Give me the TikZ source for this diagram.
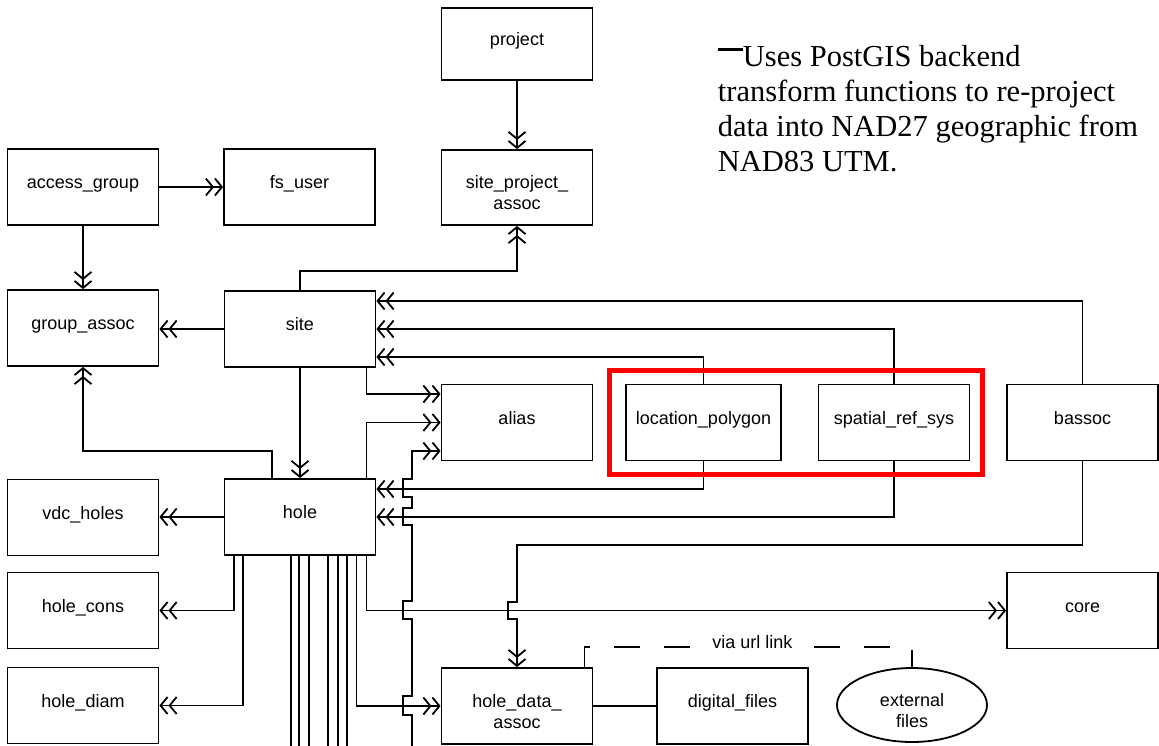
\documentclass[tikz,border=0pt]{standalone}
\usepackage{fontspec}
\setmainfont{Liberation Sans}
\newfontfamily\timesfont{Liberation Serif}
\usetikzlibrary{arrows.meta,shapes.geometric,calc}
\begin{document}
\begin{tikzpicture}[x=1pt,y=-1pt,
  line width=1.8pt,
  every node/.style={font=\fontsize{18}{21}\selectfont},
  tbl/.style={draw, rectangle, minimum width=151pt, minimum height=76pt, inner sep=0pt, text height=14pt, text depth=11pt, line width=1.8pt},
  tbl2/.style={tbl, align=center, text height=44pt, text depth=0pt},
  conn/.style={-{Straight Barb[length=7pt,width=17pt,sep=0pt]Straight Barb[length=7pt,width=17pt]}},
]
\useasboundingbox[fill=white] (0,0) rectangle (1159,745);

% tables
\node[tbl, minimum height=72pt] (project) at (517,44) {project};
\node[tbl2, minimum height=75pt] (spa) at (517,187.5) {site\_project\_\\assoc};
\node[tbl] (access) at (83,187) {access\_group};
\node[tbl] (fsuser) at (299.5,187) {fs\_user};
\node[tbl] (gassoc) at (83,328) {group\_assoc};
\node[tbl] (site) at (300,329) {site};
\node[tbl] (alias) at (517,422.5) {alias};
\node[tbl, minimum width=155pt] (lpoly) at (703.5,422.5) {location\_polygon};
\node[tbl] (srs) at (894,422.5) {spatial\_ref\_sys};
\node[tbl] (bassoc) at (1082.5,422.5) {bassoc};
\node[tbl] (hole) at (300,517) {hole};
\node[tbl] (vdc) at (83,517.5) {vdc\_holes};
\node[tbl] (hcons) at (83,610.5) {hole\_cons};
\node[tbl] (core) at (1082.5,610.5) {core};
\node[tbl] (hdiam) at (83,705.5) {hole\_diam};
\node[tbl2] (hda) at (517,706) {hole\_data\_\\assoc};
\node[tbl] (dfiles) at (732.5,706) {digital\_files};
\node[draw, ellipse, minimum width=150pt, minimum height=74pt, inner sep=0pt, align=center, text height=44pt, text depth=0pt] (ext) at (912,705) {external\\files};

% free ends below the picture
\coordinate (offA) at (412,760);
\foreach \i/\x in {1/291,2/299,3/309,4/328,5/338,6/347}{
  \coordinate (bot\i) at (\x,760);
  \draw (bot\i |- hole.south) -- (bot\i);
}

% connectors
\draw[conn] (project) -- (spa);
\draw[conn] (site.north) -- ++(0,-19) -| (spa.south);
\draw[conn] (access) -- (fsuser);
\draw[conn] (access) -- (gassoc);
\draw[conn] (site.west) -- (gassoc.east |- site.west);
\draw[conn] (bassoc.north) |- ($(site.east)+(0,-28)$);
\draw[conn] (srs.north) |- (site.east);
\draw[conn] (lpoly.north) |- ($(site.east)+(0,28)$);
\draw[conn] ($(site.south east)+(-10,0)$) |- ($(alias.west)+(0,-28.5)$);
\draw[conn] ($(hole.north east)+(-10,0)$) |- (alias.west);
\draw[conn] (offA) -- (412,715) -- (403,715) -- (403,696) -- (412,696) -- (412,619) -- (403,619) -- (403,601) -- (412,601) -- (412,525) -- (403,525) -- (403,508) -- (412,508) -- (412,497) -- (403,497) -- (403,479) -- (412,479) -- (412,451) -- ($(alias.west)+(0,28.5)$);
\draw[conn] (site) -- (hole);
\draw[conn] ($(hole.north west)+(48,0)$) -- ++(0,-27) -| (gassoc.south);
\draw[conn] (lpoly.south) |- ($(hole.east)+(0,-28)$);
\draw[conn] (srs.south) |- (hole.east);
\draw[conn] (hole.west) -- (vdc.east |- hole.west);
\draw[conn] ($(hole.south west)+(10,0)$) |- (hcons);
\draw[conn] ($(hole.south west)+(19,0)$) |- (hdiam);
\draw[conn] ($(hole.south east)+(-10,0)$) |- (core);
\draw[conn] ($(hole.south east)+(-20,0)$) |- (hda);
\draw[conn] (bassoc.south) |- (517,545) -- (517,602) -- (508,602) -- (508,619) -- (517,619) -- (hda.north);
\draw (hda) -- (dfiles);
\draw[dash pattern=on 26pt off 24pt] ($(hda.north east)+(-9,0)$) |- ($(ext.north)+(0,-20)$) -- (ext.north);
\node[fill=white, inner sep=2pt] (via) at (752.5,642) {via url link};

% highlight
\draw[red, line width=5pt] (609,370) rectangle (982,474);

% note
\node[anchor=north west, inner sep=0pt, align=left, font=\timesfont\fontsize{30.5}{35}\selectfont] (note) at (717,44) {\rule[15pt]{25pt}{3pt}Uses PostGIS backend\\transform functions to re-project\\data into NAD27 geographic from\\NAD83 UTM.};
\end{tikzpicture}
\end{document}
